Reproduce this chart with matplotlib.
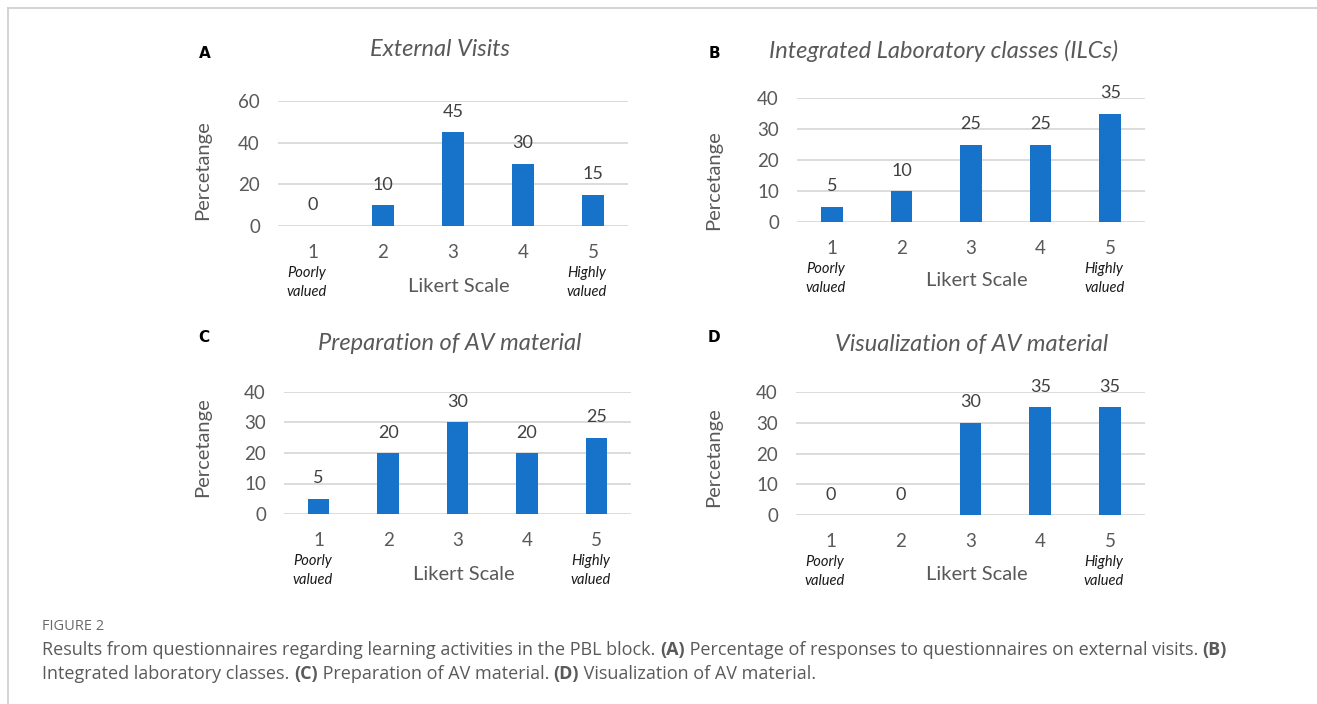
import matplotlib
matplotlib.use("Agg")
import matplotlib.pyplot as plt
from matplotlib.lines import Line2D

W, H = 1317, 704

categories = ["1", "2", "3", "4", "5"]
external_visits = [0, 10, 45, 30, 15]
ilc_values = [5, 10, 25, 25, 35]
prep_av = [5, 20, 30, 20, 25]
vis_av = [0, 0, 30, 35, 35]

titles = ["External Visits", "Integrated Laboratory classes (ILCs)",
          "Preparation of AV material", "Visualization of AV material"]
letters = ["A", "B", "C", "D"]

BAR = "#1772CA"
GRID = "#D9D9D9"
TXT = "#595959"
CFONT = ["Lato", "DejaVu Sans"]

fig = plt.figure(figsize=(W / 100, H / 100), dpi=100)
fig.patch.set_facecolor("white")


def fx(x):
    return x / W


def fy(y):
    return 1 - y / H


# frame lines
fig.add_artist(Line2D([fx(8), 1], [fy(8), fy(8)], color="#CCCCCC", lw=1.2))
fig.add_artist(Line2D([fx(8), fx(8)], [fy(8), 0], color="#CCCCCC", lw=1.2))

panels = [
    dict(vals=external_visits, l=278, r=628, y0=226, yt=101, ymax=60, step=20,
         tx=440, ty=50, lx=205, ly=53, ylx=203, yly=170, xl=286),
    dict(vals=ilc_values, l=797, r=1145, y0=222, yt=98, ymax=40, step=10,
         tx=944, ty=51, lx=714, ly=53, ylx=714, yly=180, xl=281),
    dict(vals=prep_av, l=284, r=631, y0=514, yt=392, ymax=40, step=10,
         tx=450, ty=343, lx=204, ly=338, ylx=203, yly=447, xl=574),
    dict(vals=vis_av, l=796, r=1145, y0=515, yt=392, ymax=40, step=10,
         tx=972, ty=344, lx=714, ly=338, ylx=714, yly=457, xl=574),
]

for i, p in enumerate(panels):
    ax = fig.add_axes([fx(p["l"]), fy(p["y0"]), (p["r"] - p["l"]) / W,
                       (p["y0"] - p["yt"]) / H])
    xs = list(range(len(categories)))
    ax.bar(xs, p["vals"], width=0.31, color=BAR, zorder=3)
    ax.set_xlim(-0.5, len(categories) - 0.5)
    ax.set_ylim(0, p["ymax"])
    ax.set_yticks(list(range(0, p["ymax"] + 1, p["step"])))
    ax.grid(axis="y", color=GRID, lw=1.3, zorder=0)
    ax.set_axisbelow(True)
    for s in ax.spines.values():
        s.set_visible(False)
    ax.tick_params(axis="y", length=0, pad=13, labelsize=13.5, labelcolor=TXT)
    ax.tick_params(axis="x", length=0, pad=13, labelsize=13.5, labelcolor=TXT)
    ax.set_xticks(xs)
    ax.set_xticklabels(categories)
    for t in ax.get_xticklabels() + ax.get_yticklabels():
        t.set_fontfamily(CFONT)
    for x, v in zip(xs, p["vals"]):
        ax.annotate(str(v), (x, v), xytext=(0, 9), textcoords="offset points",
                    ha="center", va="bottom", fontsize=13, color="#404040",
                    family=CFONT)
    bx0 = p["l"] + 35 - 6
    bx4 = p["l"] + (p["r"] - p["l"]) * 0.9 - 6
    ty1 = p["y0"] + 47
    ty2 = p["y0"] + 66
    for bx, word in ((bx0, "Poorly"), (bx4, "Highly")):
        fig.text(fx(bx), fy(ty1), word, ha="center", va="center",
                 fontsize=10.5, style="italic", color="#1a1a1a", family=CFONT)
        fig.text(fx(bx), fy(ty2), "valued", ha="center", va="center",
                 fontsize=10.5, style="italic", color="#1a1a1a", family=CFONT)
    fig.text(fx((p["l"] + p["r"]) / 2 + 6), fy(p["xl"]), "Likert Scale",
             ha="center", va="center", fontsize=14.5, color=TXT, family=CFONT)
    fig.text(fx(p["ylx"]), fy(p["yly"]), "Percetange", rotation=90,
             ha="center", va="center", fontsize=14.5, color=TXT, family=CFONT)
    fig.text(fx(p["tx"]), fy(p["ty"]), titles[i], ha="center", va="center",
             fontsize=17, style="italic", color=TXT, family=CFONT)
    fig.text(fx(p["lx"]), fy(p["ly"]), letters[i], ha="center", va="center",
             fontsize=11, weight="bold", color="black",
             family=["DejaVu Sans"])

# caption
capfont = ["Open Sans", "DejaVu Sans"]
CAPC = "#5a5a5a"
fig.text(fx(42), fy(626), "FIGURE 2", ha="left", va="center", fontsize=10.5,
         color="#6a6a6a", family=capfont)

line1 = [("Results from questionnaires regarding learning activities in the PBL block. ", False),
         ("(A)", True),
         (" Percentage of responses to questionnaires on external visits. ", False),
         ("(B)", True)]
line2 = [("Integrated laboratory classes. ", False), ("(C)", True),
         (" Preparation of AV material. ", False), ("(D)", True),
         (" Visualization of AV material.", False)]

renderer = fig.canvas.get_renderer()


def draw_line(pieces, y):
    x = 42
    for txt, bold in pieces:
        t = fig.text(fx(x), fy(y), txt, ha="left", va="center", fontsize=13,
                     color=CAPC, family=capfont,
                     weight="bold" if bold else "normal")
        bb = t.get_window_extent(renderer=renderer)
        x += bb.width


draw_line(line1, 650)
draw_line(line2, 674)

fig.savefig("out.png", dpi=100, facecolor="white")
